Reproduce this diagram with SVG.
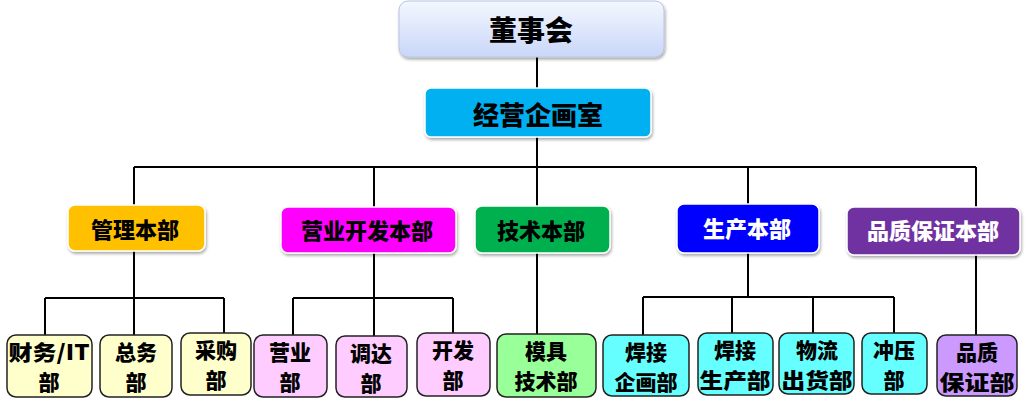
<svg xmlns="http://www.w3.org/2000/svg" width="1025" height="406" viewBox="0 0 1025 406">
<style>
text{font-family:"Noto Sans CJK SC","Noto Sans CJK JP",sans-serif;font-weight:900;text-anchor:middle;dominant-baseline:central;fill:#000}
.l1{stroke:#b8c4e0;stroke-width:1;filter:url(#sh)}
.l2{stroke:#ffffff;stroke-width:1.5;filter:url(#sh)}
.l3{stroke:#222;stroke-width:1.5}
.t2{font-size:22px}
.t3{font-size:21px}
.w{fill:#fff}
#conn path{fill:none;stroke:#000;stroke-width:2}
</style>
<defs>
<linearGradient id="g1" x1="0" y1="0" x2="0" y2="1">
<stop offset="0" stop-color="#f4f7ff"/>
<stop offset="1" stop-color="#c8d6f8"/>
</linearGradient>
<filter id="sh" x="-10%" y="-20%" width="120%" height="150%">
<feDropShadow dx="1" dy="2" stdDeviation="1.5" flood-color="#000" flood-opacity="0.35"/>
</filter>
</defs>
<rect width="1025" height="406" fill="#fff"/>
<g id="conn">
<path d="M537 57V88"/>
<path d="M537 137V167"/>
<path d="M134 167H976"/>
<path d="M134 167V205M374 167V207M537 167V206M748 167V204M976 167V207"/>
<path d="M134 251V298M45 298H224M45 298V335M134 298V335M224 298V333"/>
<path d="M374 253V298M293 298H453M293 298V335M374 298V336M453 298V333"/>
<path d="M537 253V334"/>
<path d="M748 253V297M643 297H894M643 297V335M732 297V333M813 297V333M894 297V333"/>
<path d="M976 255V335"/>
</g>
<g id="n-board"><rect class="l1" x="399" y="1" width="265" height="56" rx="9" fill="url(#g1)"/><text x="531" y="29" font-size="28">董事会</text></g>
<g id="n-plan"><rect class="l2" x="425" y="88" width="226" height="49" rx="6" fill="#00b0f0"/><text x="538" y="113" font-size="26">经营企画室</text></g>
<g id="n-kanri"><rect class="l2" x="68" y="205" width="137" height="46" rx="7" fill="#ffc000"/><text class="t2" x="135" y="228">管理本部</text></g>
<g id="n-eigyo"><rect class="l2" x="281" y="207" width="175" height="46" rx="7" fill="#ff00ff"/><text class="t2" x="367" y="229">营业开发本部</text></g>
<g id="n-gijutsu"><rect class="l2" x="475" y="206" width="135" height="47" rx="7" fill="#00b050"/><text class="t2" x="541" y="229">技术本部</text></g>
<g id="n-seisan"><rect class="l2" x="677" y="204" width="142" height="49" rx="7" fill="#0000ff"/><text class="t2 w" x="747" y="227">生产本部</text></g>
<g id="n-hinshitsu"><rect class="l2" x="847" y="207" width="173" height="48" rx="7" fill="#7030a0"/><text class="t2 w" x="933" y="229">品质保证本部</text></g>
<g id="n-zaimu"><rect class="l3" x="7" y="335" width="85" height="62" rx="9" fill="#ffffcc"/><text class="t3" x="49" y="351" textLength="81" lengthAdjust="spacingAndGlyphs">财务/IT</text><text class="t3" x="49" y="381">部</text></g>
<g id="n-somu"><rect class="l3" x="100" y="335" width="72" height="62" rx="9" fill="#ffffcc"/><text class="t3" x="136" y="351">总务</text><text class="t3" x="136" y="381">部</text></g>
<g id="n-kobai"><rect class="l3" x="181" y="333" width="70" height="62" rx="9" fill="#ffffcc"/><text class="t3" x="216" y="349">采购</text><text class="t3" x="216" y="379">部</text></g>
<g id="n-eigyobu"><rect class="l3" x="254" y="335" width="73" height="62" rx="9" fill="#ffccff"/><text class="t3" x="290" y="351">营业</text><text class="t3" x="290" y="381">部</text></g>
<g id="n-chotatsu"><rect class="l3" x="336" y="336" width="71" height="61" rx="9" fill="#ffccff"/><text class="t3" x="371" y="352">调达</text><text class="t3" x="371" y="382">部</text></g>
<g id="n-kaihatsu"><rect class="l3" x="417" y="333" width="73" height="63" rx="9" fill="#ffccff"/><text class="t3" x="453" y="349">开发</text><text class="t3" x="453" y="379">部</text></g>
<g id="n-mold"><rect class="l3" x="497" y="334" width="99" height="63" rx="9" fill="#99ff99"/><text class="t3" x="546" y="350">模具</text><text class="t3" x="546" y="380">技术部</text></g>
<g id="n-yosetsu-k"><rect class="l3" x="603" y="335" width="86" height="61" rx="9" fill="#66ffff"/><text class="t3" x="646" y="351">焊接</text><text class="t3" x="646" y="381">企画部</text></g>
<g id="n-yosetsu-s"><rect class="l3" x="698" y="333" width="75" height="62" rx="9" fill="#66ffff"/><text class="t3" x="735" y="349">焊接</text><text class="t3" x="735" y="379" textLength="71" lengthAdjust="spacingAndGlyphs">生产部</text></g>
<g id="n-butsuryu"><rect class="l3" x="779" y="333" width="75" height="61" rx="9" fill="#66ffff"/><text class="t3" x="817" y="349">物流</text><text class="t3" x="817" y="379" textLength="71" lengthAdjust="spacingAndGlyphs">出货部</text></g>
<g id="n-press"><rect class="l3" x="862" y="333" width="65" height="61" rx="9" fill="#66ffff"/><text class="t3" x="894" y="349">冲压</text><text class="t3" x="894" y="379">部</text></g>
<g id="n-qa"><rect class="l3" x="937" y="335" width="80" height="61" rx="9" fill="#cc99ff"/><text class="t3" x="977" y="351">品质</text><text class="t3" x="977" y="381" textLength="75" lengthAdjust="spacingAndGlyphs">保证部</text></g>
</svg>
